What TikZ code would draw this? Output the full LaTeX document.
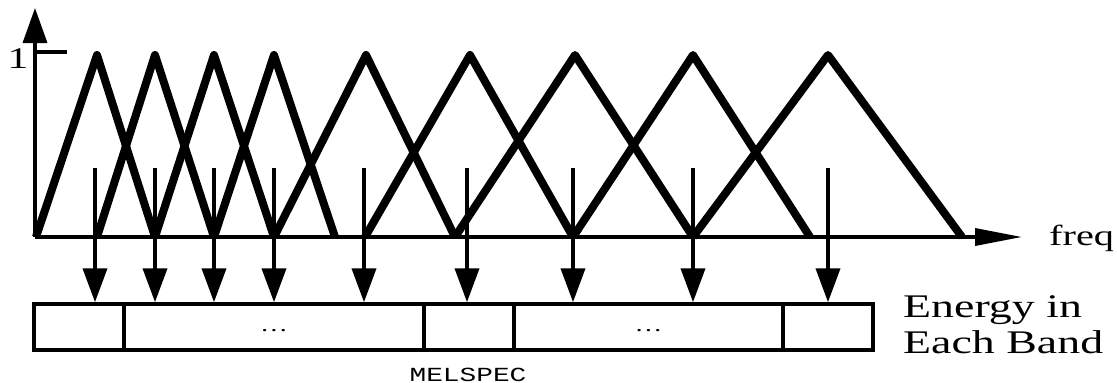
\documentclass[tikz,border=0pt]{standalone}
\usepackage{fontspec}
\setmainfont{Liberation Serif}[FakeStretch=1.39]
\newfontfamily\melfont{Liberation Mono}[FakeStretch=1.39]
\usetikzlibrary{arrows.meta}
\usetikzlibrary{positioning}

\begin{document}
\begin{tikzpicture}
    [x=1pt, y=-1pt,
     axis/.style={line width=3.5pt},
     band/.style={line width=8pt, line join=round},
     down/.style={line width=4pt, -{Triangle[length=34pt, width=24pt]}},
     cell/.style={draw, line width=3.5pt, minimum height=46pt, inner sep=0pt,
       font=\fontsize{20}{24}\selectfont}]
    \useasboundingbox (0,0) rectangle (1117,383);

    \coordinate (o) at (35,237);
    \coordinate (ytop) at (35,8);
    \coordinate (xend) at (1022,237);
    \coordinate (one) at (35,52);
    \draw [axis, -{Triangle[length=35pt, width=24pt]}] (o) -- (ytop);
    \draw [axis, -{Triangle[length=47pt, width=17pt]}] (o) -- (xend);
    \draw [axis] (one) -- ++(32,0);
    \node (onelabel) [anchor=base, inner sep=0pt, font=\fontsize{30}{34}\selectfont] at (18,68) {1};
    \node (freq) [anchor=base west, inner sep=0pt, font=\fontsize{29}{34}\selectfont] at (1049,245) {freq};

    \foreach \a/\b/\c in {36/97/155, 97/155/214, 155/214/274, 214/274/335, 274/366/455,
                          365/470/573, 455/575/693, 573/693/810, 693/828/962}
      \draw [band] (\a,237) -- (\b,55) -- (\c,237);

    \node (b1) [cell, minimum width=90pt] at (79,327) {};
    \node (b2) [cell, minimum width=300pt] at (274,327) {\vphantom{Ag}\ldots};
    \node (b3) [cell, minimum width=90pt] at (469,327) {};
    \node (b4) [cell, minimum width=269pt] at (648.5,327) {\vphantom{Ag}\ldots};
    \node (b5) [cell, minimum width=90pt] at (828,327) {};

    \foreach \x/\c [count=\i] in {95/b1, 155/b2, 214/b2, 274/b2, 364/b2,
                                  467/b3, 573/b4, 693/b4, 828/b5}
    {
      \coordinate (t\i) at (\x,168);
      \draw [down] (t\i) -- (t\i |- \c.north);
    }

    \node (energy) [anchor=base west, align=left, inner sep=0pt,
      font=\fontsize{33}{36}\selectfont] at (903,353) {Energy in\\Each Band};
    \node (melspec) [anchor=base, inner sep=0pt,
      font=\melfont\fontsize{20}{22}\selectfont] at (468,381) {MELSPEC};
\end{tikzpicture}
\end{document}
